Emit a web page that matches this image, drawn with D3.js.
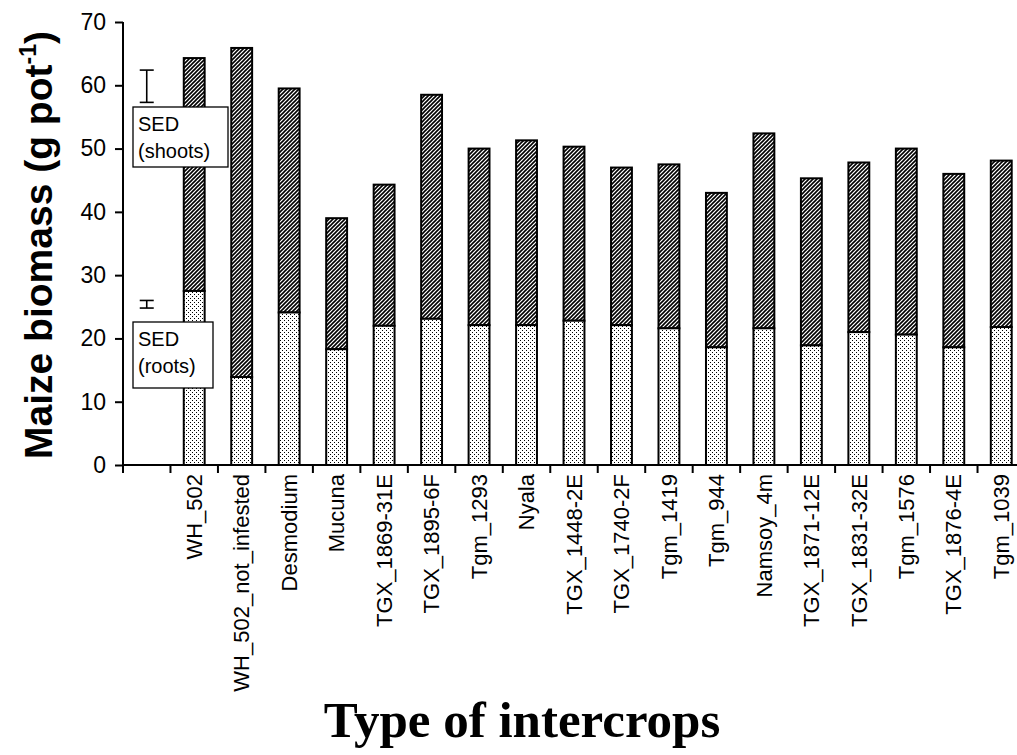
<!DOCTYPE html>
<html><head><meta charset="utf-8">
<script src="https://cdn.jsdelivr.net/npm/d3@7"></script>
<style>body{margin:0;background:#fff;}svg{display:block;}</style>
</head><body>
<svg id="c" width="1017" height="755"></svg>
<script>
const categories = ["WH_502","WH_502_not_infested","Desmodium","Mucuna","TGX_1869-31E","TGX_1895-6F","Tgm_1293","Nyala","TGX_1448-2E","TGX_1740-2F","Tgm_1419","Tgm_944","Namsoy_4m","TGX_1871-12E","TGX_1831-32E","Tgm_1576","TGX_1876-4E","Tgm_1039"];
const roots  = [27.5,13.9,24.1,18.3,22.0,23.1,22.1,22.1,22.8,22.1,21.6,18.6,21.6,18.9,21.0,20.6,18.6,21.8];
const totals = [64.3,65.9,59.5,39.0,44.3,58.5,50.0,51.3,50.3,47.0,47.5,43.0,52.4,45.3,47.8,50.0,46.0,48.1];
const yTicks = [0,10,20,30,40,50,60,70];
const sedShoots = [57.3,62.4];
const sedRoots = [24.8,26.0];
const sedLabels = [["SED","(shoots)"],["SED","(roots)"]];
const sedSlot = "SED";

const svg = d3.select("#c");
const x = d3.scaleBand().domain([sedSlot, ...categories]).range([123, 1025]).paddingInner(0.56).paddingOuter(0.28);
const y = d3.scaleLinear().domain([0,70]).range([465,22]);

const defs = svg.append("defs");
const hatch = defs.append("pattern").attr("id","hatch").attr("patternUnits","userSpaceOnUse").attr("width",4).attr("height",4);
hatch.append("rect").attr("width",4).attr("height",4).attr("fill","#fff");
hatch.append("path").attr("d","M-1,1 l2,-2 M0,4 l4,-4 M3,5 l2,-2").attr("stroke","#000").attr("stroke-width",1.6);
const dots = defs.append("pattern").attr("id","dots").attr("patternUnits","userSpaceOnUse").attr("width",4).attr("height",4);
dots.append("rect").attr("width",4).attr("height",4).attr("fill","#fff");
dots.append("rect").attr("x",0).attr("y",0).attr("width",1).attr("height",1).attr("fill","#000");
dots.append("rect").attr("x",2).attr("y",2).attr("width",1).attr("height",1).attr("fill","#000");

const font = "Liberation Sans, Arial, sans-serif";
const g = svg.append("g");
g.selectAll("rect.shoot").data(categories).join("rect").attr("class","shoot")
  .attr("x", d=>x(d)).attr("width", x.bandwidth())
  .attr("y", (d,i)=>y(totals[i])).attr("height",(d,i)=>y(roots[i])-y(totals[i]))
  .attr("fill","url(#hatch)").attr("stroke","#000").attr("stroke-width",2);
g.selectAll("rect.root").data(categories).join("rect").attr("class","root")
  .attr("x", d=>x(d)).attr("width", x.bandwidth())
  .attr("y", (d,i)=>y(roots[i])).attr("height",(d,i)=>y(0)-y(roots[i]))
  .attr("fill","url(#dots)").attr("stroke","#000").attr("stroke-width",2);

// SED error bars
const sx = x(sedSlot) + x.bandwidth()/2;
[sedShoots, sedRoots].forEach(s=>{
  const e = svg.append("g").attr("stroke","#000").attr("stroke-width",1.6);
  e.append("line").attr("x1",sx).attr("x2",sx).attr("y1",y(s[0])).attr("y2",y(s[1]));
  e.append("line").attr("x1",sx-7).attr("x2",sx+7).attr("y1",y(s[0])).attr("y2",y(s[0]));
  e.append("line").attr("x1",sx-7).attr("x2",sx+7).attr("y1",y(s[1])).attr("y2",y(s[1]));
});
// SED label boxes
const boxes = [{lab:sedLabels[0], x0:133, y0:107, w:95, h:60},{lab:sedLabels[1], x0:133, y0:322, w:80, h:66}];
boxes.forEach(b=>{
  const bg = svg.append("g");
  bg.append("rect").attr("x",b.x0).attr("y",b.y0).attr("width",b.w).attr("height",b.h).attr("fill","#fff").attr("stroke","#000").attr("stroke-width",1.3);
  b.lab.forEach((t,i)=>bg.append("text").attr("x",b.x0+5).attr("y",b.y0+24+i*27).text(t)
    .attr("font-family",font).attr("font-size",20).attr("fill","#000"));
});

// Y axis
const ya = svg.append("g").attr("transform","translate(123,0)")
  .call(d3.axisLeft(y).tickValues(yTicks).tickSize(8).tickPadding(9).tickFormat(d3.format("d")));
ya.select(".domain").attr("stroke-width",2).attr("d","M0,22V465");
ya.selectAll(".tick line").attr("stroke-width",2);
ya.selectAll("text").attr("font-family",font).attr("font-size",23).attr("fill","#000");

// X axis
const xa = svg.append("g").attr("transform","translate(0,465)");
xa.append("line").attr("x1",123).attr("x2",1017).attr("stroke","#000").attr("stroke-width",2);
const bounds = [sedSlot, ...categories].map(d=>x(d) - x.step()*x.paddingInner()/2);
xa.selectAll("line.tk").data(bounds).join("line").attr("class","tk")
  .attr("x1",d=>d).attr("x2",d=>d).attr("y1",0).attr("y2",8).attr("stroke","#000").attr("stroke-width",2);
xa.selectAll("text").data(categories).join("text")
  .attr("transform",d=>`translate(${x(d)+x.bandwidth()/2},9) rotate(-90)`)
  .attr("text-anchor","end").attr("dy","0.35em")
  .attr("font-family",font).attr("font-size",22).attr("fill","#000")
  .text(d=>d);

// Titles
svg.append("text").attr("x",522).attr("y",737).attr("text-anchor","middle")
  .attr("font-family","Liberation Serif, Times New Roman, serif").attr("font-weight","bold").attr("font-size",51)
  .text("Type of intercrops");
const yt = svg.append("text").attr("transform","translate(52,245) rotate(-90)").attr("text-anchor","middle")
  .attr("font-family",font).attr("font-weight","bold").attr("font-size",39);
yt.append("tspan").text("Maize biomass (g pot");
yt.append("tspan").attr("font-size",23).attr("dy",-16).text("-1");
yt.append("tspan").attr("dy",16).text(")");
</script>
</body></html>
